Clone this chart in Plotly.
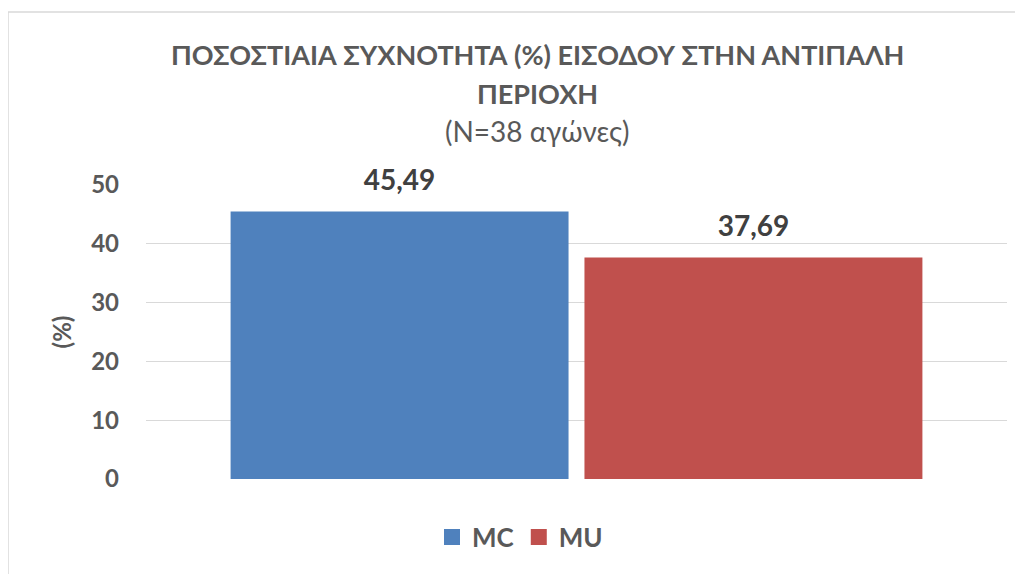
import plotly.graph_objects as go

categories = [""]
series_names = ["MC", "MU"]
mc_values = [45.49]
mu_values = [37.69]
colors = ["#4F81BD", "#C0504D"]
y_ticks = [0, 10, 20, 30, 40, 50]
title_line1 = "ΠΟΣΟΣΤΙΑΙΑ ΣΥΧΝΟΤΗΤΑ (%) ΕΙΣΟΔΟΥ ΣΤΗΝ ΑΝΤΙΠΑΛΗ"
title_line2 = "ΠΕΡΙΟΧΗ"
subtitle = "(N=38 αγώνες)"

FONT = "Lato, Open Sans, sans-serif"
GRAY = "#595959"

def fmt(v):
    return f"{v:.2f}".replace(".", ",")

fig = go.Figure()
for name, vals, col in zip(series_names, [mc_values, mu_values], colors):
    fig.add_trace(go.Bar(
        x=categories, y=vals, name=name, offsetgroup=name, alignmentgroup="a",
        marker=dict(color=col, line=dict(width=0)), showlegend=False,
    ))
for name, vals, col in zip(series_names, [mc_values, mu_values], colors):
    fig.add_trace(go.Scatter(
        x=categories, y=vals, mode="markers+text", offsetgroup=name, alignmentgroup="a",
        text=[fmt(v) for v in vals], textposition="top center", cliponaxis=False,
        marker=dict(size=22, color="rgba(0,0,0,0)"), showlegend=False, hoverinfo="skip",
        textfont=dict(family=FONT, size=28, color="#404040", weight="bold"),
    ))
for name, col in zip(series_names, colors):
    fig.add_trace(go.Scatter(
        x=[None], y=[None], mode="markers", name=name,
        marker=dict(symbol="square", size=16, color=col),
    ))

PL, PT, PW, PH = 146, 185, 861, 294  # page coords of plot area
OFF = 8  # body margin

def py(p):
    return (PT + PH - p) / PH

def px(p):
    return (p - PL) / PW

ann_font = dict(family=FONT, size=27, color=GRAY, weight="bold")
fig.update_layout(
    width=1023 - OFF, height=574 - OFF,
    paper_bgcolor="white", plot_bgcolor="white",
    margin=dict(l=PL - OFF, r=16, t=PT - OFF, b=574 - PT - PH, autoexpand=False),
    barmode="group", bargap=0.178, bargroupgap=0.045,
    scattermode="group", scattergap=0.178,
    showlegend=True,
    legend=dict(orientation="h", x=px(520), xanchor="center", y=py(537), yanchor="middle",
                font=dict(family=FONT, size=26, color=GRAY, weight="bold"),
                itemwidth=30, itemsizing="trace"),
    annotations=[
        dict(text=title_line1, x=px(537.5), y=py(54), xref="paper", yref="paper",
             xanchor="center", yanchor="middle", showarrow=False, font=ann_font),
        dict(text=title_line2, x=px(537.5), y=py(93), xref="paper", yref="paper",
             xanchor="center", yanchor="middle", showarrow=False, font=ann_font),
        dict(text=subtitle, x=px(537.5), y=py(131), xref="paper", yref="paper",
             xanchor="center", yanchor="middle", showarrow=False,
             font=dict(family=FONT, size=28, color=GRAY)),
    ],
    xaxis=dict(showticklabels=False, showgrid=False, zeroline=False, showline=False),
    yaxis=dict(range=[0, 50], tickvals=y_ticks, showgrid=True, gridcolor="#D9D9D9", gridwidth=1,
               zeroline=False, showline=False, ticks="",
               tickfont=dict(family=FONT, size=24, color=GRAY, weight="bold"),
               ticklabelstandoff=26,
               title=dict(text="(%)", font=dict(family=FONT, size=24, color=GRAY, weight="bold"),
                          standoff=12)),
    shapes=[dict(type="rect", xref="paper", yref="paper",
                 x0=px(8), x1=px(1040), y0=py(600), y1=py(12),
                 line=dict(color="#D9D9D9", width=1.5), fillcolor="rgba(0,0,0,0)", layer="below")],
)

fig.write_html("out.html")
